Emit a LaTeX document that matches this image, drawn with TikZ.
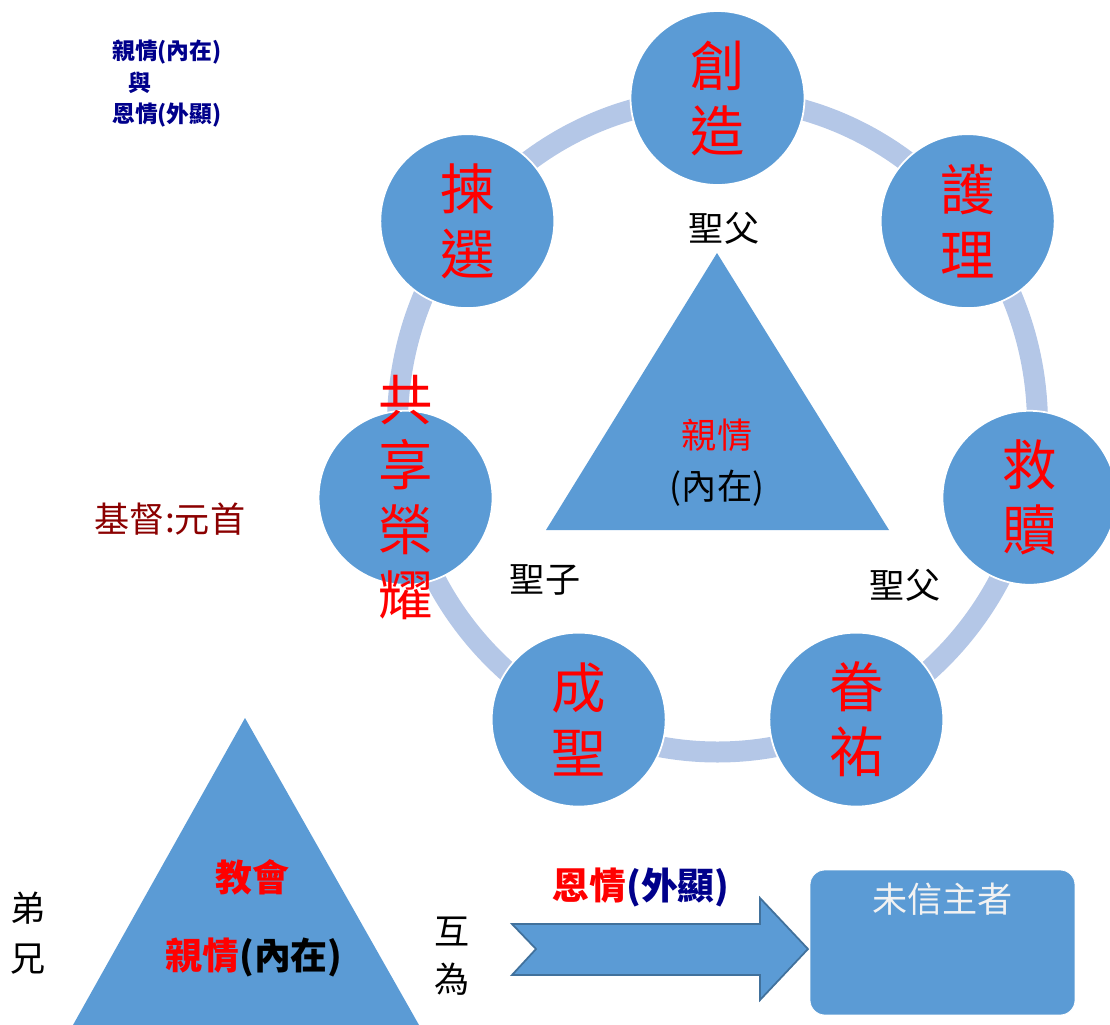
\documentclass[tikz,border=0pt]{standalone}
\usepackage{fontspec}
\setmainfont{Noto Sans CJK TC}
\usetikzlibrary{calc,positioning}
\definecolor{cblue}{RGB}{91,155,213}
\definecolor{cring}{RGB}{180,199,231}
\definecolor{cedge}{RGB}{65,113,156}
\definecolor{cnavy}{RGB}{0,0,139}
\definecolor{cdark}{RGB}{139,0,0}
\definecolor{clight}{RGB}{242,242,242}

\begin{document}
\begin{tikzpicture}[x=0.02cm,y=-0.02cm,
  disc/.style={circle,fill=cblue,draw=white,line width=1pt,minimum size=3.48cm,inner sep=0},
  disctext/.style={text=red,align=center,font=\fontsize{31}{37}\selectfont},
  lbl/.style={font=\fontsize{20}{24}\selectfont},
  bld/.style={font=\bfseries\fontsize{21}{25}\selectfont}]
\useasboundingbox (0,0) rectangle (1110,1025);

% ring of seven works
\draw[cring,line width=0.42cm] (717.5,425) ellipse [x radius=320,y radius=327];
\foreach \i/\txt in {0/{創\\造},1/{護\\理},2/{救\\贖},3/{眷\\祐},4/{成\\聖},5/{共\\享\\榮\\耀},6/{揀\\選}}{
  \node[disc] (c\i) at ({717.5+320*cos(90-360/7*\i)},{425-327*sin(90-360/7*\i)}) {};
  \node[disctext] (t\i) at (c\i) {\txt};
}

% trinity in the middle
\fill[cblue] (717,253) -- (889,530) -- (546,530) -- cycle;
\node[lbl,text=red] (kin) at (717,435) {親情};
\node[lbl] (inner) at (717,488) {(內在)};
\node[lbl] (father) at (724,228) {聖父};
\node[lbl] (son) at (545,580) {聖子};
\node[lbl] (father2) at (905,585) {聖父};

% notes on the left
\node[text=cnavy,font=\bfseries\fontsize{13}{15}\selectfont] (n1) at (167,52) {親情(內在)};
\node[text=cnavy,font=\bfseries\fontsize{13}{15}\selectfont] (n2) at (140,83) {與};
\node[text=cnavy,font=\bfseries\fontsize{13}{15}\selectfont] (n3) at (167,115) {恩情(外顯)};
\node[lbl,text=cdark] (head) at (170,519) {基督:元首};

% church and the world
\fill[cblue] (245,718) -- (419,1025) -- (73,1025) -- cycle;
\node[bld,text=red] (church) at (252,877) {教會};
\node[bld] (kin2) at (254,957) {{\color{red}親情}(內在)};
\node[lbl,align=center,font=\fontsize{20}{28.5}\selectfont] (bro) at (28,933) {弟\\兄};
\node[lbl,align=center,font=\fontsize{20}{27}\selectfont] (mutual) at (452,956) {互\\為};

\draw[fill=cblue,draw=cedge,line width=1pt] (512,924) -- (760,924) -- (760,898) -- (808,949)
  -- (760,1000) -- (760,975) -- (512,975) -- (536,949) -- cycle;
\node[bld] (grace) at (641,887) {{\color{red}恩情}{\color{cnavy}(外顯)}};

\node[rectangle,rounded corners=0.3cm,fill=cblue,draw=white,minimum width=5.3cm,minimum height=2.9cm] (others) at (942.5,942.5) {};
\node[lbl,text=clight] (otxt) at ($(others.north)+(0,30)$) {未信主者};
\end{tikzpicture}
\end{document}
